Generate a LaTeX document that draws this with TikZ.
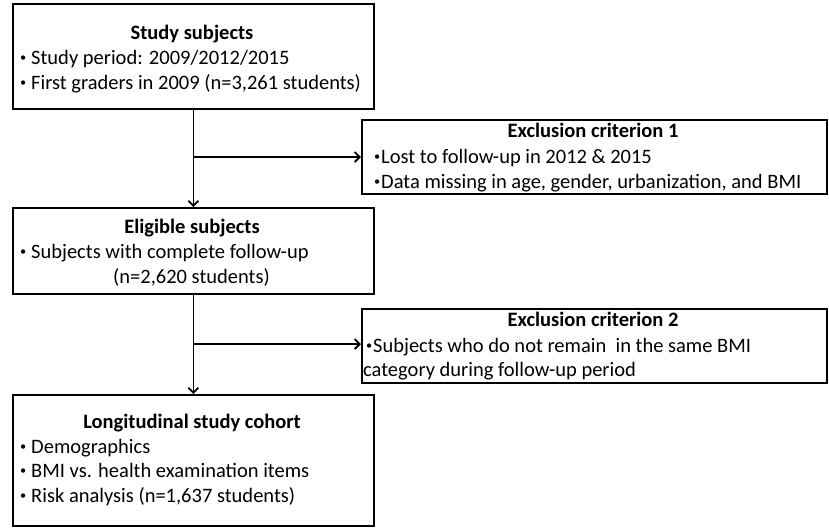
\documentclass[tikz,border=0pt]{standalone}
\usepackage{fontspec}
\usepackage{graphicx}
\setmainfont{Carlito}
\usetikzlibrary{arrows.meta}
\newcommand\mybul{\raisebox{2.8pt}{\scalebox{0.6}{•}}}
\newcommand\bulA{\makebox[11pt][l]{\mybul}}
\newcommand\bulB{\makebox[7pt][l]{\mybul}}
\begin{document}
\begin{tikzpicture}[x=1pt,y=-1pt,
  box/.style={draw, line width=1.8pt, inner sep=0pt, anchor=north west},
  txt/.style={inner sep=0pt, anchor=base west, font=\fontsize{20.5}{24}\selectfont},
  ttl/.style={inner sep=0pt, anchor=base, font=\fontsize{20.5}{24}\selectfont\bfseries},
  arr/.style={line width=1.8pt, -{Straight Barb[length=5pt,width=10pt,line width=1.8pt]}}]
\useasboundingbox (0,0) rectangle (829,531);
\fill[white] (0,0) rectangle (829,531);
% boxes
\node[box, minimum width=361pt, minimum height=105pt] (b1) at (12,3) {};
\node[box, minimum width=465pt, minimum height=74pt] (e1) at (361,119) {};
\node[box, minimum width=361pt, minimum height=86pt] (b2) at (12,207) {};
\node[box, minimum width=465pt, minimum height=74pt] (e2) at (361,308) {};
\node[box, minimum width=361pt, minimum height=131pt] (b3) at (12,394) {};
% texts box 1
\node[ttl] (t1) at (192,39) {Study subjects};
\node[txt] (t1a) at (20,64) {\bulA Study period: 2009/2012/2015};
\node[txt] (t1b) at (20,89) {\bulA First graders in 2009 (n=3,261 students)};
% exclusion 1
\node[ttl] (te1) at (593,137) {Exclusion criterion 1};
\node[txt] (te1a) at (374,163) {\bulB Lost to follow-up in 2012 \& 2015};
\node[txt] (te1b) at (374,188) {\bulB Data missing in age, gender, urbanization, and BMI};
% box 2
\node[ttl] (t2) at (192,233) {Eligible subjects};
\node[txt] (t2a) at (20,258) {\bulA Subjects with complete follow-up};
\node[txt] (t2b) at (113,283) {(n=2,620 students)};
% exclusion 2
\node[ttl] (te2) at (593,326) {Exclusion criterion 2};
\node[txt] (te2a) at (366,352) {\bulB Subjects who do not remain \ in the same BMI};
\node[txt] (te2b) at (363,376) {category during follow-up period};
% box 3
\node[ttl] (t3) at (192,428) {Longitudinal study cohort};
\node[txt] (t3a) at (20,453) {\bulA Demographics};
\node[txt] (t3b) at (20,477) {\bulA BMI vs. health examination items};
\node[txt] (t3c) at (20,502) {\bulA Risk analysis (n=1,637 students)};
% connectors
\coordinate (j1) at (b1.south |- 0,157);
\coordinate (j2) at (b2.south |- 0,344);
\draw[arr] (b1.south) -- (b2.north);
\draw[arr] (j1) -- (e1.west |- j1);
\draw[arr] (b2.south) -- (b3.north);
\draw[arr] (j2) -- (e2.west |- j2);
\end{tikzpicture}
\end{document}
